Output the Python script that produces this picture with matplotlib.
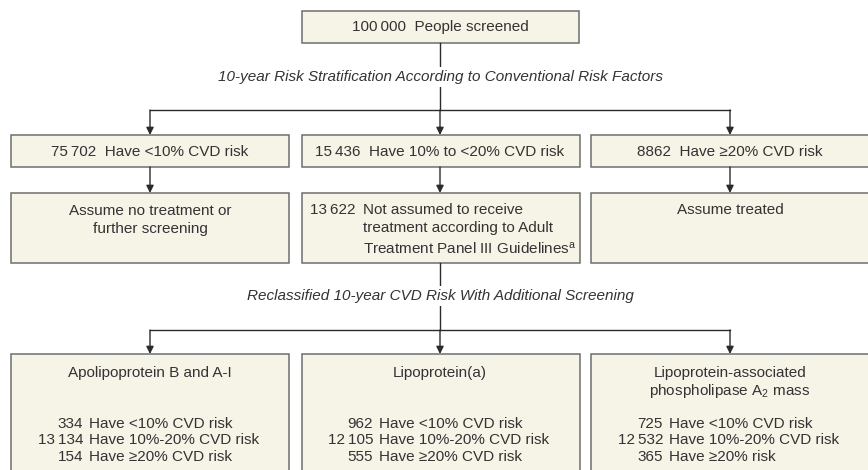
import matplotlib
matplotlib.use("Agg")
from matplotlib import pyplot as plt
from matplotlib.patches import Rectangle

plt.rcParams['font.family'] = ['Liberation Sans', 'DejaVu Sans']
plt.rcParams['mathtext.fontset'] = 'custom'
plt.rcParams['mathtext.rm'] = 'Liberation Sans'
plt.rcParams['mathtext.it'] = 'Liberation Sans:italic'

# data
screened = 100000
tier_counts = [75702, 15436, 8862]
tier_labels = ["Have <10% CVD risk", "Have 10% to <20% CVD risk", "Have \u226520% CVD risk"]
not_treated = 13622
markers = ["Apolipoprotein B and A-I", "Lipoprotein(a)",
           "Lipoprotein-associated\nphospholipase A$_\\mathrm{2}$ mass"]
low_counts = [334, 962, 725]
mid_counts = [13134, 12105, 12532]
high_counts = [154, 555, 365]
high_labels = ["Have \u226520% CVD risk", "Have \u226520% CVD risk", "Have \u226520% risk"]
step1 = "10-year Risk Stratification According to Conventional Risk Factors"
step2 = "Reclassified 10-year CVD Risk With Additional Screening"

FILL = "#f6f3e7"
EDGE = "#6e6e6e"
LINE = "#2b2b2b"
TXT = "#333333"
FS = 11


def fmt(n):
    if n >= 10000:
        return "{:,}".format(n).replace(",", "\u2009")
    return str(n)


fig = plt.figure(figsize=(8.68, 4.70), dpi=100)
ax = fig.add_axes([0, 0, 1, 1])
ax.set_xlim(0, 868)
ax.set_ylim(470, 0)
ax.axis('off')


def box(x0, y0, x1, y1):
    ax.add_patch(Rectangle((x0, y0), x1 - x0, y1 - y0, facecolor=FILL,
                           edgecolor=EDGE, lw=1.1, zorder=1))


def arrow(x, y0, y1):
    ax.annotate("", xy=(x, y1), xytext=(x, y0),
                arrowprops=dict(arrowstyle='-|>', color=LINE, lw=1,
                                mutation_scale=11, shrinkA=0, shrinkB=0))


cols = [150, 440, 730]
lefts = [11, 302, 591]
w = 278

# top box
box(302, 11, 579, 43)
ax.text(440, 27, fmt(screened) + "  People screened", ha='center', va='center',
        fontsize=FS, color=TXT)

# split 1
ax.plot([440, 440], [43, 110], color=LINE, lw=1)
ax.text(440, 77, step1, ha='center', va='center', fontsize=FS, style='italic',
        color=TXT, bbox=dict(facecolor='white', edgecolor='none', pad=2))
ax.plot([cols[0], cols[2]], [110, 110], color=LINE, lw=1)
for i in range(3):
    arrow(cols[i], 110, 135)
    box(lefts[i], 135, lefts[i] + w, 167)
    ax.text(cols[i], 152, fmt(tier_counts[i]) + "  " + tier_labels[i],
            ha='center', va='center', fontsize=FS, color=TXT)
    arrow(cols[i], 167, 193)
    box(lefts[i], 193, lefts[i] + w, 263)

ax.text(cols[0], 220, "Assume no treatment or\nfurther screening", ha='center',
        va='center', fontsize=FS, color=TXT, linespacing=1.45)
ax.text(cols[2], 210, "Assume treated", ha='center', va='center', fontsize=FS, color=TXT)
ax.text(310, 210, fmt(not_treated), ha='left', va='center', fontsize=FS, color=TXT)
ax.text(363, 229.5, "Not assumed to receive\ntreatment according to Adult\n"
        "Treatment Panel III Guidelines$^\\mathrm{a}$", ha='left', va='center',
        fontsize=FS, color=TXT, linespacing=1.4)

# split 2
ax.plot([440, 440], [263, 330], color=LINE, lw=1)
ax.text(440, 296, step2, ha='center', va='center', fontsize=FS, style='italic',
        color=TXT, bbox=dict(facecolor='white', edgecolor='none', pad=2))
ax.plot([cols[0], cols[2]], [330, 330], color=LINE, lw=1)
for i in range(3):
    arrow(cols[i], 330, 354)
    box(lefts[i], 354, lefts[i] + w, 500)
    if "\n" in markers[i]:
        ax.text(cols[i], 383, markers[i], ha='center', va='center', fontsize=FS,
                color=TXT, linespacing=1.2)
    else:
        ax.text(cols[i], 373, markers[i], ha='center', va='center', fontsize=FS, color=TXT)
    rows = [(low_counts[i], "Have <10% CVD risk"),
            (mid_counts[i], "Have 10%-20% CVD risk"),
            (high_counts[i], high_labels[i])]
    for j, (n, lab) in enumerate(rows):
        y = 424 + j * 16.5
        ax.text(cols[i] - 67, y, fmt(n), ha='right', va='center', fontsize=FS, color=TXT)
        ax.text(cols[i] - 61, y, lab, ha='left', va='center', fontsize=FS, color=TXT)

fig.savefig("out.png", dpi=100)
